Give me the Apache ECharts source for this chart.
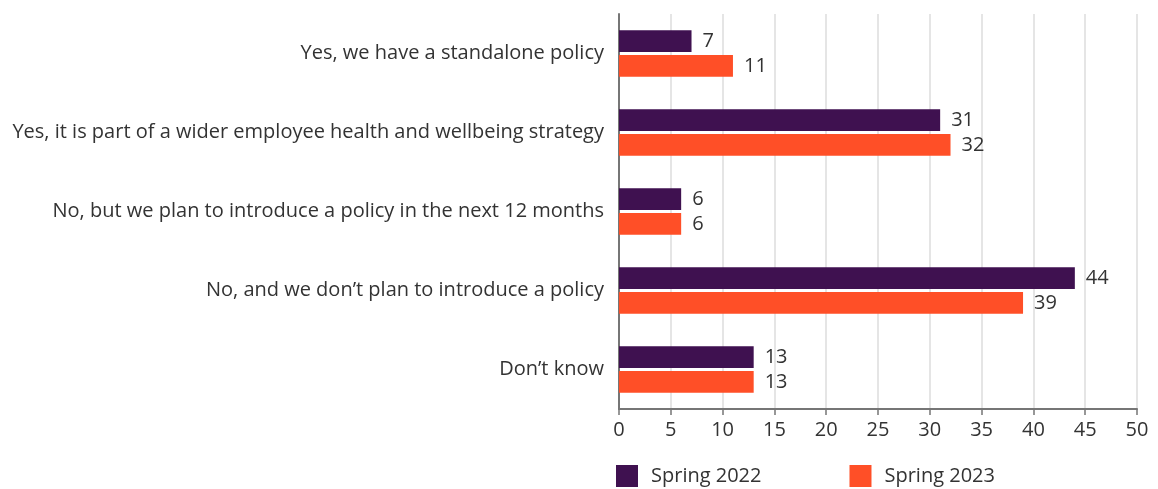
<!DOCTYPE html>
<html>
<head>
<meta charset="utf-8">
<script src="https://cdn.jsdelivr.net/npm/echarts@6/dist/echarts.min.js"></script>
<style>
  html, body { margin: 0; padding: 0; background: #fff; }
  #chart { width: 1158px; height: 489px; }
</style>
</head>
<body>
<div id="chart"></div>
<script>
// Survey answers, top to bottom
const categories = [
  'Yes, we have a standalone policy',
  'Yes, it is part of a wider employee health and wellbeing strategy',
  'No, but we plan to introduce a policy in the next 12 months',
  'No, and we don\u2019t plan to introduce a policy',
  'Don\u2019t know'
];
const seriesNames = ['Spring 2022', 'Spring 2023'];
const spring2022 = [7, 31, 6, 44, 13];
const spring2023 = [11, 32, 6, 39, 13];
const xTicks = { min: 0, max: 50, interval: 5 };

const FONT = '"Open Sans"';
const FS = 20;
const TEXT = '#333333';
const colors = ['#3f1150', '#ff4f27'];

const chart = echarts.init(document.getElementById('chart'));

const labelStyle = {
  show: true,
  position: 'right',
  distance: 11,
  fontFamily: FONT,
  fontSize: FS,
  color: TEXT
};

chart.setOption({
  animation: false,
  textStyle: { fontFamily: FONT },
  grid: { left: 619, right: 21, top: 14, bottom: 80, containLabel: false },
  legend: {
    data: seriesNames,
    left: 616,
    top: 465,
    padding: 0,
    itemWidth: 22,
    itemHeight: 22,
    itemGap: 88,
    icon: 'rect',
    textStyle: { fontFamily: FONT, fontSize: FS, color: TEXT, padding: [0, 0, 0, 8] }
  },
  xAxis: {
    type: 'value',
    min: xTicks.min,
    max: xTicks.max,
    interval: xTicks.interval,
    axisLine: { show: true, onZero: false, lineStyle: { color: '#767676', width: 2 } },
    axisTick: { show: true, length: 6, lineStyle: { color: '#767676', width: 1.5 } },
    axisLabel: { fontFamily: FONT, fontSize: FS, color: TEXT, margin: 11 },
    splitLine: { show: true, lineStyle: { color: '#dcdcdc', width: 1.5 } }
  },
  yAxis: {
    type: 'category',
    data: categories,
    inverse: true,
    axisLine: { show: true, lineStyle: { color: '#767676', width: 2 } },
    axisTick: { show: false },
    axisLabel: { fontFamily: FONT, fontSize: FS, color: TEXT, margin: 15 }
  },
  series: [
    {
      name: seriesNames[0],
      type: 'bar',
      data: spring2022,
      itemStyle: { color: colors[0] },
      barGap: '14%',
      barCategoryGap: '41%',
      label: labelStyle
    },
    {
      name: seriesNames[1],
      type: 'bar',
      data: spring2023,
      itemStyle: { color: colors[1] },
      barGap: '14%',
      barCategoryGap: '41%',
      label: labelStyle
    }
  ]
});
</script>
</body>
</html>
